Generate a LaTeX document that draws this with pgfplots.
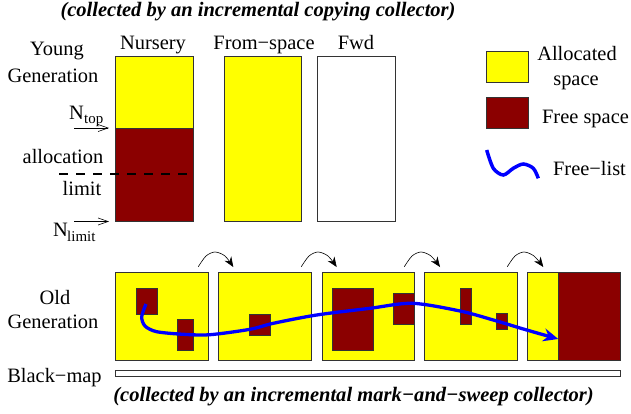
\documentclass[border=0pt]{standalone}
\usepackage{pgfplots}
\pgfplotsset{compat=1.18}
\usepackage{fontspec}
\setmainfont{Liberation Serif}
\usetikzlibrary{arrows.meta}
\definecolor{alloc}{RGB}{255,255,0}
\definecolor{freesp}{RGB}{139,0,0}
\definecolor{flist}{RGB}{0,0,255}
% cell from (x1,y1) to (x2,y2), y grows downwards
\newcommand{\cell}[5]{\addplot[fill=#5, draw=black!80, line width=0.8bp]
  coordinates {(#1,#2) (#3,#2) (#3,#4) (#1,#4)} -- cycle;}
\begin{document}
\begin{tikzpicture}[
    hop/.style={smooth, black, line width=0.6bp, -{Stealth[length=10bp,width=8bp]}},
    lbl/.style={font=\fontsize{20.5}{24}\selectfont, inner sep=0pt, anchor=base},
    ttl/.style={font=\fontsize{20.6}{24}\selectfont\bfseries\itshape, inner sep=0pt, anchor=base},
    sub/.style={font=\fontsize{15}{17}\selectfont, inner sep=0pt, anchor=base west},
]
\begin{axis}[
    scale only axis,
    width=631bp, height=414bp,
    xmin=0, xmax=631, ymin=0, ymax=414,
    y dir=reverse,
    hide axis,
    clip=false,
]
\addplot[draw=none] coordinates {(0,0) (631,414)};

% young generation
\cell{115}{56}{193}{128}{alloc}
\cell{115}{128}{193}{221}{freesp}
\cell{224}{56}{301}{221}{alloc}
\cell{317}{56}{395}{221}{white}
\addplot[black, line width=1.4bp, dash pattern=on 9bp off 8bp] coordinates {(59,174) (193,174)};
\addplot[black, line width=0.6bp, -{Straight Barb[length=10bp,width=7bp]}] coordinates {(74,128) (109,128)};
\addplot[black, line width=0.6bp, -{Straight Barb[length=10bp,width=7bp]}] coordinates {(74,221.5) (109,221.5)};

% old generation
\cell{115}{272}{208}{360}{alloc}
\cell{218}{272}{311}{360}{alloc}
\cell{322}{272}{414}{360}{alloc}
\cell{424}{272}{517}{360}{alloc}
\cell{527}{272}{558}{360}{alloc}
\cell{558}{272}{620}{360}{freesp}
\cell{136}{288}{157}{314}{freesp}
\cell{177}{319}{193}{350}{freesp}
\cell{249}{314}{270}{335}{freesp}
\cell{332}{288}{373}{350}{freesp}
\cell{393}{293}{414}{324}{freesp}
\cell{460}{288}{471}{324}{freesp}
\cell{496}{313}{507}{329}{freesp}
\cell{115}{370}{620}{376}{white}

\addplot[hop] coordinates {(198.3,266.7) (206,256) (215,252) (225,256) (233.3,267)};
\addplot[hop] coordinates {(301.3,266.7) (309,256) (318,252) (328,256) (336.7,267)};
\addplot[hop] coordinates {(404.3,266.7) (412,256) (421,252) (431,256) (440,267)};
\addplot[hop] coordinates {(507.3,266.7) (515,256) (524,252) (534,256) (543.3,267)};

% free list
\addplot[smooth, flist, line width=3.3bp, -{Stealth[length=15bp,width=13bp]}] coordinates {
(146,304) (141.7,316.7) (145,326) (156.7,331.7) (183.3,334.3) (210,334.7)
(250,329.3) (273.3,323.3) (316.7,315) (370,308.3) (412.3,303.3) (460,311)
(493.3,320) (526.7,330) (558.3,339)};

% legend
\cell{486}{51}{528}{82}{alloc}
\cell{486}{97}{528}{128}{freesp}
\addplot[smooth, flist, line width=3.5bp] coordinates {
(486.7,150) (493.3,168.3) (503.3,175) (513.3,168.3) (523.3,164) (533.3,168.3) (538.3,178.3)};

% texts
\node[ttl] at (axis cs:258,17) {(collected by an incremental copying collector)};
\node[ttl] at (axis cs:353.5,401) {(collected by an incremental mark−and−sweep collector)};
\node[lbl] at (axis cs:57,56) {Young};
\node[lbl] at (axis cs:53,82.5) {Generation};
\node[lbl] at (axis cs:153,50) {Nursery};
\node[lbl] at (axis cs:264,50) {From−space};
\node[lbl] at (axis cs:356,50) {Fwd};
\node[lbl, anchor=base west] at (axis cs:69,119) {N};
\node[sub] at (axis cs:84,123) {top};
\node[lbl] at (axis cs:63,163) {allocation};
\node[lbl] at (axis cs:82,195) {limit};
\node[lbl, anchor=base west] at (axis cs:53,236.7) {N};
\node[sub] at (axis cs:67,241) {limit};
\node[lbl] at (axis cs:55,304) {Old};
\node[lbl] at (axis cs:53,328.3) {Generation};
\node[lbl] at (axis cs:54.5,382) {Black−map};
\node[lbl] at (axis cs:577,60.7) {Allocated};
\node[lbl] at (axis cs:576,86) {space};
\node[lbl] at (axis cs:585.5,123) {Free space};
\node[lbl] at (axis cs:589.5,175) {Free−list};
\end{axis}
\end{tikzpicture}
\end{document}
